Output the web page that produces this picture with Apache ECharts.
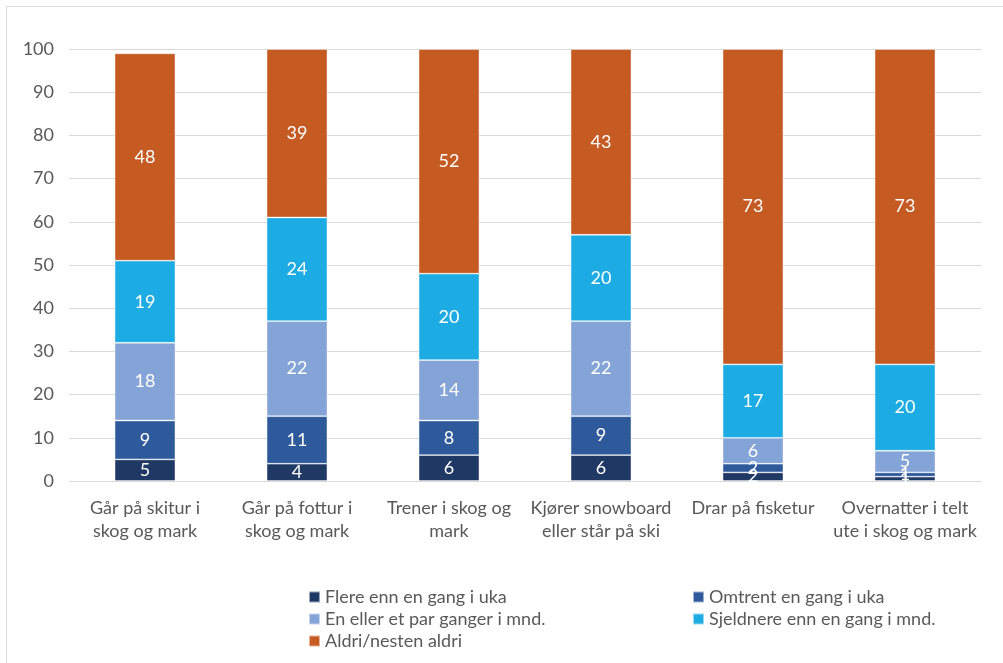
<!DOCTYPE html>
<html>
<head>
<meta charset="utf-8">
<script src="https://cdn.jsdelivr.net/npm/echarts@6/dist/echarts.min.js"></script>
<style>
  html, body { margin: 0; padding: 0; background: #fff; }
  #chart { width: 1003px; height: 663px; }
</style>
</head>
<body>
<div id="chart"></div>
<script>
// Activities (x-axis categories)
const categories = [
  'Går på skitur i\nskog og mark',
  'Går på fottur i\nskog og mark',
  'Trener i skog og\nmark',
  'Kjører snowboard\neller står på ski',
  'Drar på fisketur',
  'Overnatter i telt\nute i skog og mark'
];

// Frequency groups (stack order, bottom to top)
const seriesNames = [
  'Flere enn en gang i uka',
  'Omtrent en gang i uka',
  'En eller et par ganger i mnd.',
  'Sjeldnere enn en gang i mnd.',
  'Aldri/nesten aldri'
];

// Percentages per frequency group
const flereEnnEnGang = [5, 4, 6, 6, 2, 1];
const omtrentEnGang  = [9, 11, 8, 9, 2, 1];
const enEllerEtPar   = [18, 22, 14, 22, 6, 5];
const sjeldnere      = [19, 24, 20, 20, 17, 20];
const aldri          = [48, 39, 52, 43, 73, 73];

const yTicks = [0, 10, 20, 30, 40, 50, 60, 70, 80, 90, 100];

const colors = ['#1F3864', '#2E5A9C', '#84A3D6', '#1CACE3', '#C55A22'];
const values = [flereEnnEnGang, omtrentEnGang, enEllerEtPar, sjeldnere, aldri];

const font = 'Lato, "Open Sans", sans-serif';
const textGrey = '#595959';
const fontSize = 18;

const chart = echarts.init(document.getElementById('chart'), null, { renderer: 'canvas' });

const series = seriesNames.map((name, i) => ({
  name: name,
  type: 'bar',
  stack: 'total',
  barWidth: '40%',
  data: values[i],
  itemStyle: { color: colors[i], borderColor: 'rgba(255,255,255,0.55)', borderWidth: 0.8 },
  label: {
    show: true,
    position: 'inside',
    color: '#fff',
    fontFamily: font,
    fontSize: fontSize
  }
}));

// Legend laid out in two columns: [column, row] for each series
const legendSlots = [[0, 0], [1, 0], [0, 1], [1, 1], [0, 2]];
const legendCols = [308, 692];
const legendRowTop = 587;
const legendRowStep = 22;

const legends = seriesNames.map((name, i) => ({
  data: [name],
  left: legendCols[legendSlots[i][0]],
  top: legendRowTop + legendRowStep * legendSlots[i][1],
  padding: 0,
  icon: 'rect',
  itemWidth: 11,
  itemHeight: 11,
  textStyle: { color: textGrey, fontFamily: font, fontSize: fontSize, lineHeight: 20 }
}));

chart.setOption({
  animation: false,
  color: colors,
  graphic: [{
    type: 'rect',
    shape: { x: 6.5, y: 6.5, width: 1010, height: 670 },
    style: { fill: 'none', stroke: '#D9D9D9', lineWidth: 1 },
    silent: true
  }],
  grid: { left: 69, right: 22, top: 49, bottom: 182, containLabel: false },
  legend: legends,
  xAxis: {
    type: 'category',
    data: categories,
    axisLine: { show: false },
    axisTick: { show: false },
    axisLabel: {
      color: textGrey,
      fontFamily: font,
      fontSize: fontSize,
      lineHeight: 23,
      margin: 16,
      interval: 0
    }
  },
  yAxis: {
    type: 'value',
    min: yTicks[0],
    max: yTicks[yTicks.length - 1],
    interval: yTicks[1] - yTicks[0],
    axisLine: { show: false },
    axisTick: { show: false },
    splitLine: { lineStyle: { color: '#D9D9D9', width: 1 } },
    axisLabel: {
      color: textGrey,
      fontFamily: font,
      fontSize: fontSize,
      margin: 15
    }
  },
  series: series
});
</script>
</body>
</html>
